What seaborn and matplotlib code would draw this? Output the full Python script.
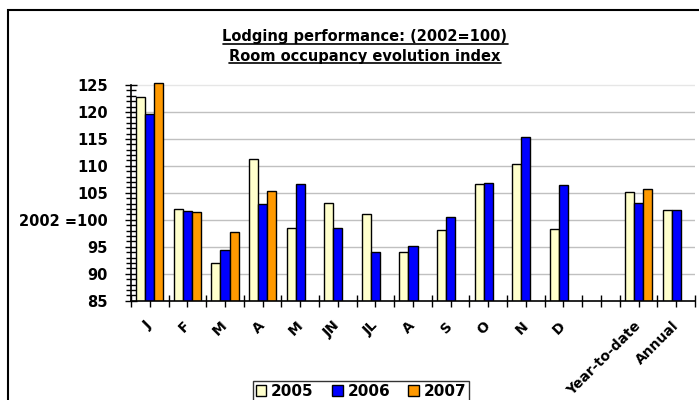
import numpy as np
import pandas as pd
import matplotlib
matplotlib.use("Agg")
import matplotlib.pyplot as plt
import seaborn as sns
from matplotlib.lines import Line2D
from matplotlib.patches import Rectangle, Patch
from matplotlib.ticker import FixedLocator

# data
cat_keys = ["Jan", "Feb", "Mar", "Apr", "May", "Jun", "Jul", "Aug", "Sep",
            "Oct", "Nov", "Dec", "gap", "YTD", "Annual"]
cat_labels = ["J", "F", "M", "A", "M", "JN", "JL", "A", "S", "O", "N", "D",
              "", "Year-to-date", "Annual"]
years = ["2005", "2006", "2007"]
nan = np.nan
v2005 = [122.7, 102.0, 91.9, 111.3, 98.4, 103.2, 101.0, 94.1, 98.2, 106.7, 110.4, 98.3, nan, 105.1, 101.9]
v2006 = [119.7, 101.6, 94.4, 102.9, 106.7, 98.5, 94.0, 95.1, 100.5, 106.8, 115.3, 106.4, nan, 103.2, 101.9]
v2007 = [125.3, 101.4, 97.7, 105.4, nan, nan, nan, nan, nan, nan, nan, nan, nan, 105.7, nan]
colors = {"2005": "#FFFFCC", "2006": "#0000FF", "2007": "#FF9900"}

rows = []
for yr, vals in zip(years, [v2005, v2006, v2007]):
  for k, v in zip(cat_keys, vals):
    if not np.isnan(v):
      rows.append({"cat": k, "year": yr, "value": v})
df = pd.DataFrame(rows)

sns.set_style("white")
plt.rcParams["font.family"] = ["DejaVu Sans"]
plt.rcParams["font.weight"] = "bold"
plt.rcParams["text.color"] = "black"
plt.rcParams["xtick.color"] = "black"
plt.rcParams["ytick.color"] = "black"

fig = plt.figure(figsize=(6.99, 4.0), dpi=100)
ax = fig.add_axes([131/699, 1-300.7/400, (695-131)/699, (300.7-82.3)/400])

sns.barplot(data=df, x="cat", y="value", hue="year", order=cat_keys,
            hue_order=years, palette=colors, width=0.72, gap=0,
            edgecolor="black", linewidth=1, ax=ax, legend=False,
            errorbar=None, saturation=1, zorder=3)

ax.set_ylim(85, 125.5)
ax.set_xlim(-0.5, len(cat_keys) - 0.5)
ax.set_xlabel("")
ax.set_ylabel("")

# gridlines
for g in range(90, 126, 5):
  ax.axhline(g, color="#e6e6e6" if g == 125 else "#c0c0c0", lw=1, zorder=0)

for s in ["top", "right"]:
  ax.spines[s].set_visible(False)
ax.spines["left"].set_bounds(85, 125)
for s in ["left", "bottom"]:
  ax.spines[s].set_color("black")
  ax.spines[s].set_linewidth(1.2)
  ax.spines[s].set_zorder(5)

ax.yaxis.set_major_locator(FixedLocator(range(85, 126, 5)))
ax.yaxis.set_minor_locator(FixedLocator(range(85, 126, 1)))
ylabels = [str(t) if t != 100 else "2002 =100" for t in range(85, 126, 5)]
ax.set_yticklabels(ylabels, fontsize=10.5, fontweight="bold", color="black")
ax.tick_params(axis="y", which="major", direction="inout", length=9, width=1, left=True, pad=12)
ax.tick_params(axis="y", which="minor", direction="inout", length=7, width=1, left=True)

ax.set_xticks(range(len(cat_keys)))
ax.xaxis.set_minor_locator(FixedLocator(np.arange(-0.5, len(cat_keys), 1.0)))
ax.set_xticklabels(cat_labels, rotation=45, ha="right", va="center",
                   rotation_mode="anchor", fontsize=10, fontweight="bold", color="black")
ax.tick_params(axis="x", which="both", direction="inout", length=8, width=1, bottom=True, pad=12.5)

# title, underlined
t1 = fig.text(365/699, 1-37/400, "Lodging performance: (2002=100)", ha="center",
              va="center", fontsize=10.5, fontweight="bold", color="black")
t2 = fig.text(365/699, 1-56/400, "Room occupancy evolution index", ha="center",
              va="center", fontsize=10.5, fontweight="bold", color="black")

# legend at bottom
handles = [Patch(facecolor=colors[y], edgecolor="black", label=y) for y in years]
leg = fig.legend(handles=handles, loc="upper center", bbox_to_anchor=(361/699, 1-381/400),
                 ncol=3, frameon=True, fancybox=False, fontsize=11,
                 handlelength=0.7, handleheight=0.7, handletextpad=0.3,
                 columnspacing=1.2, borderpad=0.2, borderaxespad=0)
leg.get_frame().set_edgecolor("black")
leg.get_frame().set_linewidth(1)
for t in leg.get_texts():
  t.set_fontweight("bold")
  t.set_color("black")

# outer chart border, cut at right and bottom
fig.patches.append(Rectangle((8/699, -0.1), 1.2, 1.1-10/400, transform=fig.transFigure,
                             fill=False, edgecolor="black", lw=1.5))

fig.canvas.draw()
r = fig.canvas.get_renderer()
for t in [t1, t2]:
  bb = t.get_window_extent(r)
  y = bb.y0 + 1
  fig.add_artist(Line2D([bb.x0/699, bb.x1/699], [y/400, y/400],
                        transform=fig.transFigure, color="black", lw=1.2))

fig.savefig("out.png", dpi=100)
